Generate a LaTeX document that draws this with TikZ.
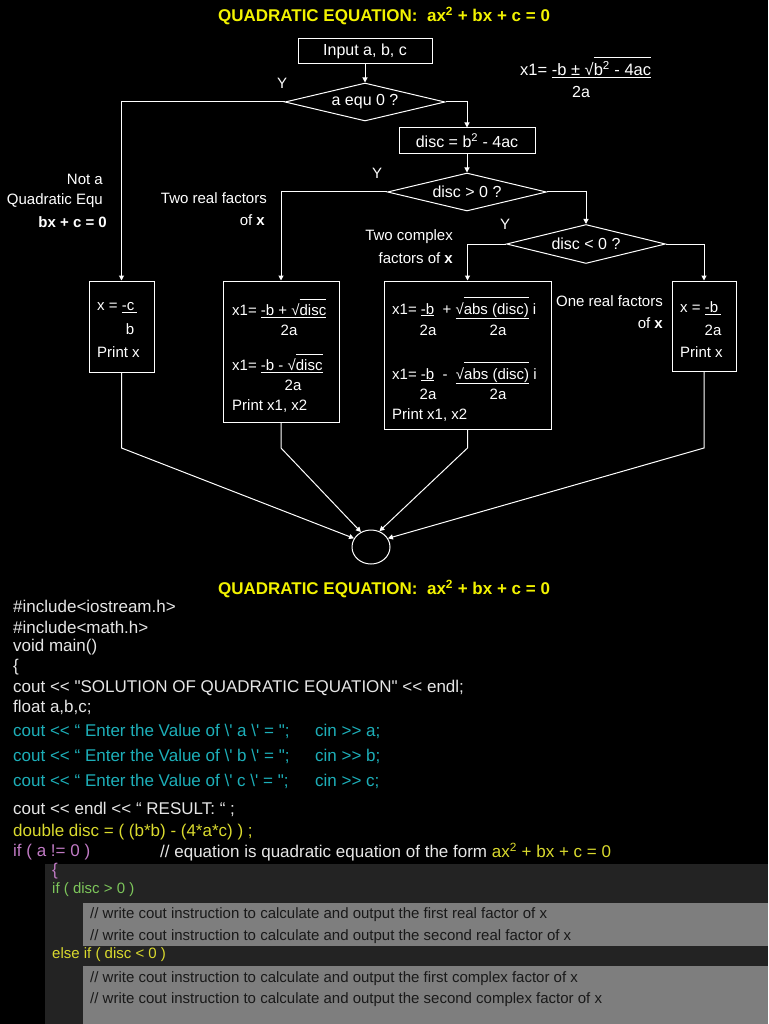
\documentclass[tikz,border=0pt]{standalone}
\usepackage{fontspec}
\setmainfont{Liberation Sans}[Ligatures=TeXOff]
\usetikzlibrary{arrows.meta,shapes.geometric}
\definecolor{titleyellow}{HTML}{F2F200}
\definecolor{codeyellow}{HTML}{DADA2E}
\definecolor{codecyan}{HTML}{1DAFB9}
\definecolor{codepink}{HTML}{C07AC4}
\definecolor{codegreen}{HTML}{7DC65B}
\definecolor{codewhite}{HTML}{E6E6E6}
\definecolor{darkpanel}{HTML}{232323}
\definecolor{graypanel}{HTML}{7E7E7E}
\newcommand\fsz[1]{\fontsize{#1}{#1}\selectfont}
\newcommand\sqbar[1]{\ensuremath{\overline{\hbox{\rule{0pt}{1.02em}#1}}}}
\tikzset{
	box/.style={draw=white, line width=1pt, inner sep=0pt, text=white, font=\fsz{16}},
	decision/.style={diamond, aspect=4, draw=white, line width=1pt, inner sep=0pt, text=white, font=\fsz{16}},
	txt/.style={inner sep=0pt, text=white, font=\fsz{15}},
	headline/.style={inner sep=0pt, text=titleyellow, font=\fsz{17}\bfseries},
	codeline/.style={inner sep=0pt, anchor=west, text=codewhite, font=\fsz{17}},
	remark/.style={inner sep=0pt, anchor=west, text=black!90, font=\fsz{15}},
	arr/.style={draw=white, line width=1pt, -{Triangle[width=5pt,length=5pt]}}
}

\begin{document}
\begin{tikzpicture}[x=1pt, y=-1pt]
			%%%%% START %%%%%
			\fill[black] (0,0) rectangle (768,1024);
			\useasboundingbox (0,0) rectangle (768,1024);
			
			\node[headline] (head) at (384,16) {QUADRATIC EQUATION:\ \ ax\textsuperscript{2} + bx + c = 0};
			
			\node[box, minimum width=134pt, minimum height=25pt] (input) at (365,51.5) {Input a, b, c};
			\node[decision, minimum width=160pt, minimum height=38pt] (aequ) at (365,102) {a equ 0 ?};
			\node[box, minimum width=136pt, minimum height=26pt] (disc) at (467,141) {disc = b\textsuperscript{2} - 4ac};
			\node[decision, minimum width=159pt, minimum height=38pt] (gt) at (467,192) {disc > 0 ?};
			\node[decision, minimum width=159pt, minimum height=39pt] (lt) at (586,244) {disc < 0 ?};
			
			\node[txt, anchor=west, font=\fsz{16.5}] (root) at (520,67) {x1= \underline{-b ± √\sqbar{b\textsuperscript{2} - 4ac}}};
			\node[txt, font=\fsz{16}] (rootden) at (581,92) {2a};
			
			\node[txt] (ya) at (282,83) {Y};
			\node[txt] (yb) at (377,173) {Y};
			\node[txt] (yc) at (505,224) {Y};
			
			\node[txt, anchor=east] (nota) at (103,179) {Not a};
			\node[txt, anchor=east] (notb) at (103,201) {Quadratic Equ};
			\node[txt, anchor=east] (notc) at (107,222) {\bfseries bx + c = 0};
			\node[txt, anchor=east] (reala) at (267,198) {Two real factors};
			\node[txt, anchor=east] (realb) at (265,220) {of \bfseries x};
			\node[txt, anchor=east] (cplxa) at (453,237) {Two complex};
			\node[txt, anchor=east] (cplxb) at (453,258) {factors of \bfseries x};
			\node[txt, anchor=east] (onea) at (663,301) {One real factors};
			\node[txt, anchor=east] (oneb) at (663,323) {of \bfseries x};
			
			% result boxes
			\node[box, minimum width=65pt, minimum height=91pt] (out1) at (121.5,326.5) {};
			\node[box, minimum width=116pt, minimum height=141pt] (out2) at (281,351.5) {};
			\node[box, minimum width=167pt, minimum height=148pt] (out3) at (467.5,355) {};
			\node[box, minimum width=64pt, minimum height=90pt] (out4) at (704,326) {};
			
			\node[txt, anchor=west] (o1a) at (97,308) {x = \underline{-c\,}};
			\node[txt] (o1b) at (130,329) {b};
			\node[txt, anchor=west] (o1c) at (97,352) {Print x};
			
			\node[txt, anchor=west] (o2a) at (232,308) {x1= \underline{-b + √\sqbar{disc}}};
			\node[txt] (o2b) at (289,330) {2a};
			\node[txt, anchor=west] (o2c) at (232,363) {x1= \underline{-b - √\sqbar{disc}}};
			\node[txt] (o2d) at (293,385) {2a};
			\node[txt, anchor=west] (o2e) at (232,406) {Print x1, x2};
			
			\node[txt, anchor=west] (o3a) at (392,308) {x1= \underline{-b}\ \ + \underline{√\sqbar{abs (disc)}} i};
			\node[txt] (o3b) at (428,330) {2a};
			\node[txt] (o3c) at (498,330) {2a};
			\node[txt, anchor=west] (o3d) at (392,373) {x1= \underline{-b}\ \ -\ \ \underline{√\sqbar{abs (disc)}} i};
			\node[txt] (o3e) at (428,394) {2a};
			\node[txt] (o3f) at (498,394) {2a};
			\node[txt, anchor=west] (o3g) at (392,415) {Print x1, x2};
			
			\node[txt, anchor=west] (o4a) at (680,308) {x = \underline{-b\,}};
			\node[txt] (o4b) at (713,330) {2a};
			\node[txt, anchor=west] (o4c) at (680,352) {Print x};
			
			\node[draw=white, line width=1pt, ellipse, minimum width=38pt, minimum height=34pt, inner sep=0pt] (stop) at (371,547) {};
			\coordinate (merge) at (0,448);
			
			\draw[arr] (input) -- (aequ);
			\draw[arr] (aequ.west) -| (out1.north);
			\draw[arr] (aequ.east) -| (disc.north);
			\draw[arr] (disc) -- (gt);
			\draw[arr] (gt.west) -| (out2.north);
			\draw[arr] (gt.east) -| (lt.north);
			\draw[arr] (lt.west) -| (out3.north);
			\draw[arr] (lt.east) -| (out4.north);
			
			\draw[arr] (out1.south) -- (out1.south |- merge) -- (stop.153);
			\draw[arr] (out2.south) -- (out2.south |- merge) -- (stop.124);
			\draw[arr] (out3.south) -- (out3.south |- merge) -- (stop.62);
			\draw[arr] (out4.south) -- (out4.south |- merge) -- (stop.27);
			
			% program listing
			\node[headline] (head2) at (384,589) {QUADRATIC EQUATION:\ \ ax\textsuperscript{2} + bx + c = 0};
			\node[codeline] (c1) at (13,606) {\#include<iostream.h>};
			\node[codeline] (c2) at (13,627) {\#include<math.h>};
			\node[codeline] (c3) at (13,647) {void main()};
			\node[codeline] (c4) at (13,667) {\{};
			\node[codeline] (c5) at (13,688) {cout << "SOLUTION OF QUADRATIC EQUATION" << endl;};
			\node[codeline] (c6) at (13,707) {float a,b,c;};
			\foreach \v [count=\i] in {a,b,c}{
				\node[codeline, text=codecyan] (in\i) at (13,706+25*\i) {cout << “ Enter the Value of \textbackslash' \v\ \textbackslash' = ";};
				\node[codeline, text=codecyan] (cin\i) at (315,706+25*\i) {cin >> \v;};
			}
			\node[codeline] (c7) at (13,809) {cout << endl << “ RESULT: “ ;};
			\node[codeline, text=codeyellow] (c8) at (13,832) {double disc = ( (b*b) - (4*a*c) ) ;};
			\node[codeline, text=codepink] (c9) at (13,852) {if ( a != 0 )};
			\node[codeline] (c10) at (160,852) {// equation is quadratic equation of the form \textcolor{codeyellow}{ax\textsuperscript{2} + bx + c = 0}};
			
			\fill[darkpanel] (45,864) rectangle (768,1024);
			\fill[graypanel] (83,903) rectangle (768,946);
			\fill[graypanel] (83,966) rectangle (768,1024);
			
			\node[codeline, text=codepink] (c11) at (52,871) {\{};
			\node[codeline, text=codegreen, font=\fsz{15}] (c12) at (52,890) {if ( disc > 0 )};
			\node[remark] (r1) at (90,915) {// write cout instruction to calculate and output the first real factor of x};
			\node[remark] (r2) at (90,937) {// write cout instruction to calculate and output the second real factor of x};
			\node[codeline, text=codeyellow, font=\fsz{15}] (c13) at (52,955) {else if ( disc < 0 )};
			\node[remark] (r3) at (90,979) {// write cout instruction to calculate and output the first complex factor of x};
			\node[remark] (r4) at (90,1000) {// write cout instruction to calculate and output the second complex factor of x};
			%%%%% END %%%%%
\end{tikzpicture}
\end{document}
